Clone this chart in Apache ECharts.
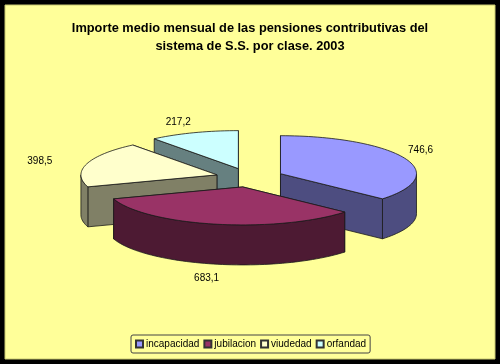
<!DOCTYPE html>
<html>
<head>
<meta charset="utf-8">
<title>Pensiones contributivas</title>
<script src="https://cdn.jsdelivr.net/npm/echarts@6/dist/echarts.min.js"></script>
<style>
html, body { margin: 0; padding: 0; background: #000; }
#chart { width: 500px; height: 364px; }
</style>
</head>
<body>
<div id="chart"></div>
<script>
const titleLines = [
    "Importe medio mensual de las pensiones contributivas del",
    "sistema de S.S. por clase. 2003"
];
const categories = ["incapacidad", "jubilacion", "viudedad", "orfandad"];
const values = [746.6, 683.1, 398.5, 217.2];

const topColors = ["#9999ff", "#993366", "#ffffcc", "#ccffff"];
const sideColors = ["#4d4d80", "#4d1a33", "#808066", "#668080"];
// paint order, the slices in front go last
const paintOrder = [2, 4, 3, 1];
// how far out the value label sits, in pie radii (x, y)
const labelReachX = [1.13, 1.33, 1.36, 1.35];
const labelReachY = [1.47, 2.45, 1.28, 1.3];

const pie = { cx: 249.5, cy: 177.6, rx: 136, ry: 38, depth: 40, explode: 0.25 };
const total = values.reduce((a, b) => a + b, 0);
const outline = { stroke: "#1a1a1a", lineWidth: 0.8 };

function rim(c, deg, dy) {
    const a = deg * Math.PI / 180;
    return [c[0] + pie.rx * Math.sin(a), c[1] - pie.ry * Math.cos(a) + (dy || 0)];
}

function arcPoints(c, from, to, dy) {
    let pts = [];
    const steps = Math.max(2, Math.ceil((to - from) / 2));
    for (let i = 0; i <= steps; i++) {
        pts.push(rim(c, from + (to - from) * i / steps, dy));
    }
    return pts;
}

function renderSlice(params, api) {
    const idx = params.seriesIndex;
    const value = api.value(0);
    let before = 0;
    for (let i = 0; i < idx; i++) before += values[i];
    const start = before / total * 360;
    const end = start + value / total * 360;
    const mid = (start + end) / 2 * Math.PI / 180;

    const c = [
        pie.cx + pie.explode * pie.rx * Math.sin(mid),
        pie.cy - pie.explode * pie.ry * Math.cos(mid)
    ];
    const below = [c[0], c[1] + pie.depth];
    let children = [];

    // the two cut faces, the one further back first
    let cuts = [start, end].sort((a, b) => Math.cos(b * Math.PI / 180) - Math.cos(a * Math.PI / 180));
    cuts.forEach(function (deg) {
        children.push({
            type: "polygon",
            shape: { points: [c, rim(c, deg), rim(c, deg, pie.depth), below] },
            style: Object.assign({ fill: sideColors[idx] }, outline)
        });
    });

    // outer wall, only the front half of the ellipse shows
    const wallFrom = Math.max(start, 90);
    const wallTo = Math.min(end, 270);
    if (wallTo > wallFrom) {
        const top = arcPoints(c, wallFrom, wallTo, 0);
        const bottom = arcPoints(c, wallFrom, wallTo, pie.depth).reverse();
        children.push({
            type: "polygon",
            shape: { points: top.concat(bottom) },
            style: Object.assign({ fill: sideColors[idx] }, outline)
        });
    }

    children.push({
        type: "polygon",
        shape: { points: [c].concat(arcPoints(c, start, end, 0)) },
        style: Object.assign({ fill: topColors[idx] }, outline)
    });

    children.push({
        type: "text",
        style: {
            x: c[0] + labelReachX[idx] * pie.rx * Math.sin(mid),
            y: c[1] - labelReachY[idx] * pie.ry * Math.cos(mid),
            text: value.toFixed(1).replace(".", ","),
            fill: "#000",
            font: "10px 'Liberation Sans', Arial, sans-serif",
            align: "center",
            verticalAlign: "middle"
        }
    });

    return { type: "group", children: children };
}

const series = categories.map(function (name, i) {
    return {
        name: name,
        type: "custom",
        coordinateSystem: "none",
        z: paintOrder[i],
        silent: true,
        renderItem: renderSlice,
        itemStyle: { color: topColors[i], borderColor: "#333", borderWidth: 0.5 },
        data: [[values[i]]]
    };
});

const myChart = echarts.init(document.getElementById("chart"), null, { renderer: "canvas" });
myChart.setOption({
    animation: false,
    backgroundColor: "#000",
    graphic: [{
        type: "rect",
        z: -10,
        shape: { x: 5, y: 5, width: 490, height: 354 },
        style: { fill: "#ffff99", stroke: "#c8c870", lineWidth: 1 }
    }],
    title: {
        text: titleLines.join("\n"),
        left: 245,
        top: 14,
        textAlign: "center",
        textStyle: {
            fontFamily: "'Liberation Sans', Arial, sans-serif",
            fontSize: 12.8,
            fontWeight: "bold",
            lineHeight: 18,
            color: "#000"
        }
    },
    legend: {
        data: categories,
        left: 131,
        top: 335,
        orient: "horizontal",
        icon: "rect",
        itemWidth: 7,
        itemHeight: 7,
        itemGap: 4,
        padding: [4, 4, 4, 4],
        borderColor: "#444",
        borderWidth: 1,
        borderRadius: 2,
        selectedMode: false,
        textStyle: {
            fontFamily: "'Liberation Sans', Arial, sans-serif",
            fontSize: 10,
            color: "#000",
            padding: [0, 0, 0, -2]
        }
    },
    series: series
});
</script>
</body>
</html>
